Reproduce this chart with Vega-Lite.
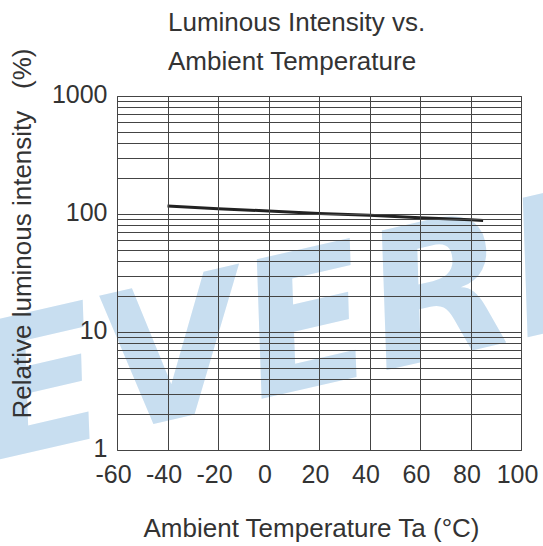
{
  "$schema": "https://vega.github.io/schema/vega-lite/v6.json",
  "width": 404,
  "height": 354,
  "autosize": "none",
  "padding": {"left": 117, "top": 96, "right": 22, "bottom": 96},
  "background": "white",
  "config": {"view": {"stroke": "#555", "strokeWidth": 1}, "font": "Liberation Sans"},
  "title": {
    "text": ["Luminous Intensity vs.", "Ambient Temperature"],
    "frame": "group",
    "anchor": "start",
    "dx": 51,
    "dy": 47,
    "fontSize": 26,
    "fontWeight": "normal",
    "color": "#333",
    "lineHeight": 39,
    "offset": 20,
    "font": "Liberation Sans"
  },
  "encoding": {
    "x": {
      "field": "temp",
      "type": "quantitative",
      "scale": {"domain": [-60, 100], "nice": false, "zero": false},
      "axis": {
        "values": [-60, -40, -20, 0, 20, 40, 60, 80, 100],
        "labelExpr": "datum.value < 0 ? '-' + abs(datum.value) : '' + datum.value",
        "title": "Ambient Temperature Ta (°C)",
        "titleFont": "Liberation Sans",
        "titleFontSize": 26,
        "titleFontWeight": "normal",
        "titleColor": "#333",
        "titleX": 194,
        "titleY": 86.7,
        "titleAlign": "center",
        "titleBaseline": "alphabetic",
        "labelFont": "Liberation Sans",
        "labelFontSize": 25,
        "labelColor": "#333",
        "labelOffset": -4,
        "labelPadding": 12,
        "labelFlush": false,
        "labelOverlap": false,
        "ticks": false,
        "domain": false,
        "grid": true,
        "gridColor": "#444",
        "gridOpacity": 1,
        "gridWidth": 1,
        "zindex": 1
      }
    },
    "y": {
      "field": "rel",
      "type": "quantitative",
      "scale": {"type": "log", "domain": [1, 1000], "nice": false},
      "axis": {
        "values": [1, 2, 3, 4, 5, 6, 7, 8, 9, 10, 20, 30, 40, 50, 60, 70, 80, 90, 100, 200, 300, 400, 500, 600, 700, 800, 900, 1000],
        "labelExpr": "(datum.value == 1 || datum.value == 10 || datum.value == 100 || datum.value == 1000) ? '' + datum.value : ''",
        "labelOverlap": false,
        "labelFlush": false,
        "title": "Relative luminous intensity\u00a0\u00a0\u00a0(%)",
        "titleFont": "Liberation Sans",
        "titleFontSize": 26,
        "titleFontWeight": "normal",
        "titleColor": "#333",
        "titleAngle": -90,
        "titleX": -86.7,
        "titleY": 322,
        "titleAlign": "left",
        "titleBaseline": "alphabetic",
        "labelFont": "Liberation Sans",
        "labelFontSize": 25,
        "labelColor": "#333",
        "labelPadding": 10,
        "labelOffset": -2,
        "ticks": false,
        "domain": false,
        "grid": true,
        "gridColor": "#444",
        "gridOpacity": 1,
        "gridWidth": 1,
        "zindex": 1
      }
    }
  },
  "layer": [
    {
      "data": {"values": [{"temp": -110, "rel": 0.8, "word": "EVERL"}]},
      "mark": {
        "type": "text",
        "align": "left",
        "baseline": "alphabetic",
        "angle": -13,
        "fontSize": 188,
        "fontWeight": "bold",
        "fontStyle": "italic",
        "color": "#c8def0",
        "font": "DejaVu Sans"
      },
      "encoding": {"text": {"field": "word"}}
    },
    {
      "data": {
        "values": [
          {"temp": -40, "rel": 117},
          {"temp": -20, "rel": 111},
          {"temp": 0, "rel": 106},
          {"temp": 20, "rel": 101},
          {"temp": 40, "rel": 97.5},
          {"temp": 60, "rel": 93},
          {"temp": 80, "rel": 89.5},
          {"temp": 85, "rel": 88}
        ]
      },
      "mark": {"type": "line", "color": "#222", "strokeWidth": 3}
    }
  ]
}
